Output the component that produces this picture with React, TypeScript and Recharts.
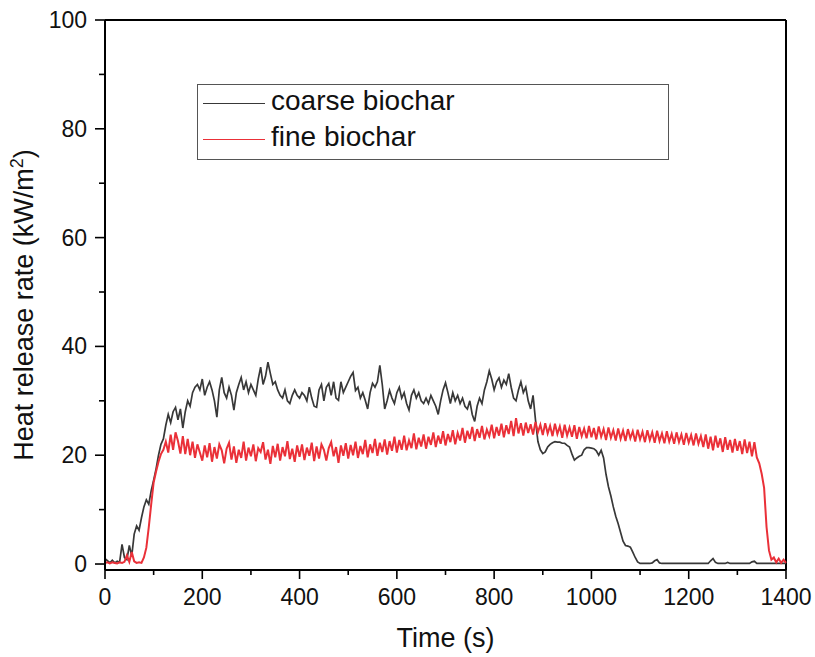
import React from 'react';
import { LineChart, Line, XAxis, YAxis, ReferenceLine, Legend } from 'recharts';

// sampling: one reading every 5 s, 0..1400 s
const SAMPLE_STEP = 5;

// coarse biochar HRR (kW/m2)
const coarse = [
  1.0, 0.6, 0.2, 0.7, 0.2, 0.5, 0.3, 3.6, 1.2, 0.8, 3.4, 1.5, 5.5, 7.0, 6.2, 8.5, 10.5, 11.8, 11.0, 13.5, 15.4, 17.5, 20.0, 22.0, 23.0,
  25.5, 27.5, 26.0, 28.0, 28.8, 26.5, 28.5, 25.0, 28.0, 30.0, 29.0, 31.5, 32.5, 33.0, 32.0, 34.0,
  31.0, 32.5, 33.5, 32.0, 30.0, 27.0, 32.0, 34.3, 31.5, 30.5, 32.5, 31.0, 28.3, 31.5, 33.0, 34.3, 32.0, 33.5, 31.5, 33.0,
  32.0, 31.0, 34.0, 36.2, 33.0, 34.5, 37.1, 35.0, 33.0, 33.5, 32.0, 31.0, 30.5, 32.0, 30.0, 29.5, 31.0, 32.0, 31.0, 30.5,
  31.5, 31.0, 30.0, 32.5, 30.5, 29.0, 28.8, 32.0, 33.0, 30.0, 32.5, 33.2, 31.0, 33.5, 30.5, 30.1, 33.5, 31.5, 32.5, 33.5,
  34.5, 35.2, 31.9, 32.5, 30.5, 31.5, 30.1, 28.5, 31.5, 33.2, 32.5, 33.5, 36.5, 33.0, 28.5, 30.0, 31.9, 30.5, 29.5, 31.5,
  32.5, 30.5, 31.5, 29.5, 28.3, 31.0, 32.0, 30.5, 31.5, 30.0, 29.5, 30.5, 29.5, 31.0, 30.0, 29.0, 27.5, 30.0, 32.0, 33.3,
  31.5, 29.5, 31.5, 30.0, 31.0, 29.5, 30.5, 29.0, 28.5, 30.0, 27.5, 26.2, 29.0, 30.5, 29.5, 32.0, 33.5, 35.5, 34.0, 32.0,
  33.5, 34.2, 32.5, 33.8, 33.0, 35.0, 32.5, 30.5, 30.0, 32.0, 33.5, 31.5, 32.5, 30.0, 28.5, 31.0, 26.5, 22.5, 21.0, 20.3,
  20.6, 21.5, 22.0, 22.3, 22.5, 22.4, 22.4, 22.2, 22.2, 21.8, 21.5, 20.2, 19.1, 19.5, 19.8, 20.0, 21.0, 21.4, 21.4, 21.3,
  21.2, 20.8, 20.0, 20.9, 19.5, 16.5, 14.2, 12.5, 10.5, 8.8, 7.4, 5.8, 4.2, 3.4, 3.3, 3.1, 2.2, 1.2, 0.4, 0.1,
  0.1, 0.1, 0.1, 0.1, 0.2, 0.6, 0.8, 0.2, 0.1, 0.1, 0.1, 0.1, 0.1, 0.1, 0.1, 0.1, 0.1, 0.1, 0.1, 0.1,
  0.1, 0.1, 0.1, 0.1, 0.1, 0.1, 0.1, 0.1, 0.6, 1.0, 0.3, 0.1, 0.1, 0.1, 0.1, 0.3, 0.1, 0.1, 0.1, 0.1,
  0.1, 0.1, 0.1, 0.1, 0.1, 0.4, 0.5, 0.1, 0.1, 0.1, 0.1, 0.1, 0.1, 0.1, 0.1, 0.1, 0.1, 0.1, 0.1, 0.1,
];

// fine biochar HRR (kW/m2)
const fine = [
  0.2, 0.3, 0.1, 0.3, 0.2, 0.1, 0.3, 0.2, 0.4, 1.6, 0.4, 2.2, 0.5, 0.2, 0.3, 0.2, 1.2, 3.0, 6.8, 11.0, 15.0, 17.0, 18.8, 20.2, 21.0,
  22.5, 20.5, 23.8, 21.0, 24.2, 22.6, 20.3, 23.5, 20.2, 23.0, 20.0, 22.5, 19.5, 22.0, 20.5, 19.0,
  21.8, 19.6, 22.2, 18.8, 21.5, 19.4, 22.0, 20.9, 18.5, 21.2, 22.3, 19.2, 21.6, 18.6, 21.0, 19.5, 22.5, 19.0, 21.4, 19.8,
  22.0, 18.9, 21.3, 20.6, 22.4, 19.2, 21.0, 18.4, 21.7, 19.6, 22.1, 19.0, 21.5, 19.8, 22.6, 19.3, 21.2, 18.8, 21.8, 19.7,
  22.0, 19.1, 21.4, 19.9, 22.3, 18.9, 21.6, 19.4, 22.0, 21.0, 19.0, 21.3, 22.4, 19.8, 21.5, 18.6, 21.8, 19.9, 22.2, 19.4,
  21.9, 20.0, 22.5, 19.5, 21.7, 20.2, 22.8, 19.6, 22.0, 20.4, 23.0, 19.9, 22.3, 20.6, 22.9, 20.1, 22.6, 20.8, 23.4, 20.5,
  22.8, 21.0, 23.6, 20.9, 22.7, 21.3, 24.0, 21.1, 23.2, 21.6, 23.8, 21.2, 23.4, 21.9, 24.2, 21.5, 23.6, 22.1, 24.4, 21.8,
  23.9, 22.4, 24.6, 22.0, 24.1, 22.7, 25.0, 22.3, 24.5, 23.0, 25.2, 22.6, 24.8, 23.2, 25.4, 22.9, 24.7, 23.5, 25.6, 23.1,
  25.2, 23.6, 25.8, 23.3, 25.5, 23.9, 26.3, 23.5, 26.8, 24.0, 25.9, 23.6, 26.0, 24.1, 25.7, 23.8, 26.1, 24.2, 25.6, 23.7,
  25.9, 24.0, 25.4, 23.5, 25.8, 23.9, 25.3, 23.2, 25.6, 23.6, 25.1, 23.4, 25.5, 23.0, 25.2, 23.5, 24.9, 23.1, 25.4, 23.3,
  25.0, 22.9, 25.3, 23.4, 24.8, 22.8, 25.1, 23.2, 24.6, 22.7, 24.9, 23.0, 24.5, 22.6, 24.8, 23.1, 24.4, 22.5, 24.7, 22.9,
  24.3, 22.4, 24.6, 22.8, 24.2, 22.3, 24.5, 22.6, 24.0, 22.2, 24.4, 22.5, 23.9, 22.1, 24.2, 22.4, 23.8, 21.9, 24.1, 22.3,
  23.7, 21.8, 24.0, 22.1, 23.5, 21.5, 23.8, 21.2, 23.4, 20.9, 23.6, 21.4, 23.1, 20.6, 23.3, 21.0, 22.8, 20.5, 23.0, 20.8,
  22.6, 20.2, 22.9, 20.4, 22.5, 19.8, 22.4, 19.6, 18.5, 16.6, 14.0, 6.8, 2.5, 0.8, 1.2, 0.3, 1.0, 0.2, 0.8, 0.2,
];

const xTicks = [0, 100, 200, 300, 400, 500, 600, 700, 800, 900, 1000, 1100, 1200, 1300, 1400];
const yTicks = [0, 10, 20, 30, 40, 50, 60, 70, 80, 90, 100];

const chartData = coarse.map((v, i) => ({ t: i * SAMPLE_STEP, coarse: v, fine: fine[i] }));

const FONT = '"Liberation Sans", Arial, sans-serif';
const BLACK = '#383838';
const RED = '#ea3038';

const XTick = ({ x, y, payload }: any) => {
  const major = payload.value % 200 === 0;
  return (
    <g>
      <line x1={x} y1={y} x2={x} y2={y + (major ? 9 : 5)} stroke="#000" strokeWidth={1.6} />
      {major && (
        <text x={x} y={y + 35} textAnchor="middle" fontSize={23} fontFamily={FONT} fill="#111">
          {payload.value}
        </text>
      )}
    </g>
  );
};

const YTick = ({ x, y, payload }: any) => {
  const major = payload.value % 20 === 0;
  return (
    <g>
      <line x1={x} y1={y} x2={x - (major ? 10 : 6)} y2={y} stroke="#000" strokeWidth={1.6} />
      {major && (
        <text x={x - 18} y={y + 8} textAnchor="end" fontSize={23} fontFamily={FONT} fill="#111">
          {payload.value}
        </text>
      )}
    </g>
  );
};

const YLabel = ({ viewBox }: any) => {
  const cx = viewBox.x + 33;
  const cy = viewBox.y + viewBox.height / 2 + 10;
  return (
    <text x={cx} y={cy} transform={`rotate(-90 ${cx} ${cy})`} textAnchor="middle"
      fontSize={27} fontFamily={FONT} fill="#111">
      <tspan>Heat release rate (kW/m</tspan>
      <tspan dy={-10} fontSize={18}>2</tspan>
      <tspan dy={10}>)</tspan>
    </text>
  );
};

const XLabel = ({ viewBox }: any) => (
  <text x={viewBox.x + viewBox.width / 2} y={viewBox.y + 77} textAnchor="middle"
    fontSize={27} fontFamily={FONT} fill="#111">
    Time (s)
  </text>
);

const LegendBox = () => (
  <div style={{
    position: 'relative', width: 472, height: 76, boxSizing: 'border-box',
    border: '1.5px solid #555', background: '#fff', fontFamily: FONT, fontSize: 28, color: '#111',
  }}>
    {[{ name: 'coarse biochar', color: BLACK, top: 18 }, { name: 'fine biochar', color: RED, top: 54 }].map((s) => (
      <div key={s.name}>
        <div style={{ position: 'absolute', left: 5, top: s.top, width: 62, height: 0, borderTop: `1.5px solid ${s.color}` }} />
        <div style={{ position: 'absolute', left: 73, top: s.top - 18, lineHeight: '32px', whiteSpace: 'nowrap' }}>{s.name}</div>
      </div>
    ))}
  </div>
);

export default function App() {
  return (
    <div style={{ position: 'absolute', left: 0, top: 0, background: '#fff' }}>
      <LineChart width={815} height={657} data={chartData} margin={{ top: 20, right: 29, bottom: 0, left: 0 }}>
        <XAxis
          dataKey="t"
          type="number"
          domain={[0, 1400]}
          ticks={xTicks}
          interval={0}
          height={87}
          tickSize={0}
          tickMargin={0}
          tickLine={false}
          tick={<XTick />}
          axisLine={{ stroke: '#000', strokeWidth: 2 }}
          label={<XLabel />}
        />
        <YAxis
          type="number"
          domain={[-1.1, 100]}
          ticks={yTicks}
          interval={0}
          width={105}
          tickSize={0}
          tickMargin={0}
          tickLine={false}
          tick={<YTick />}
          axisLine={{ stroke: '#000', strokeWidth: 2 }}
          allowDataOverflow
          label={<YLabel />}
        />
        <ReferenceLine y={100} stroke="#000" strokeWidth={2} ifOverflow="visible" />
        <ReferenceLine x={1400} stroke="#000" strokeWidth={2} ifOverflow="visible" />
        <Legend
          layout="vertical"
          align="center"
          verticalAlign="middle"
          content={<LegendBox />}
          wrapperStyle={{ top: 84, left: 197, width: 472, height: 76 }}
        />
        <Line type="linear" dataKey="coarse" name="coarse biochar" stroke={BLACK} strokeWidth={1.7} dot={false} isAnimationActive={false} />
        <Line type="linear" dataKey="fine" name="fine biochar" stroke={RED} strokeWidth={2} dot={false} isAnimationActive={false} />
      </LineChart>
    </div>
  );
}
